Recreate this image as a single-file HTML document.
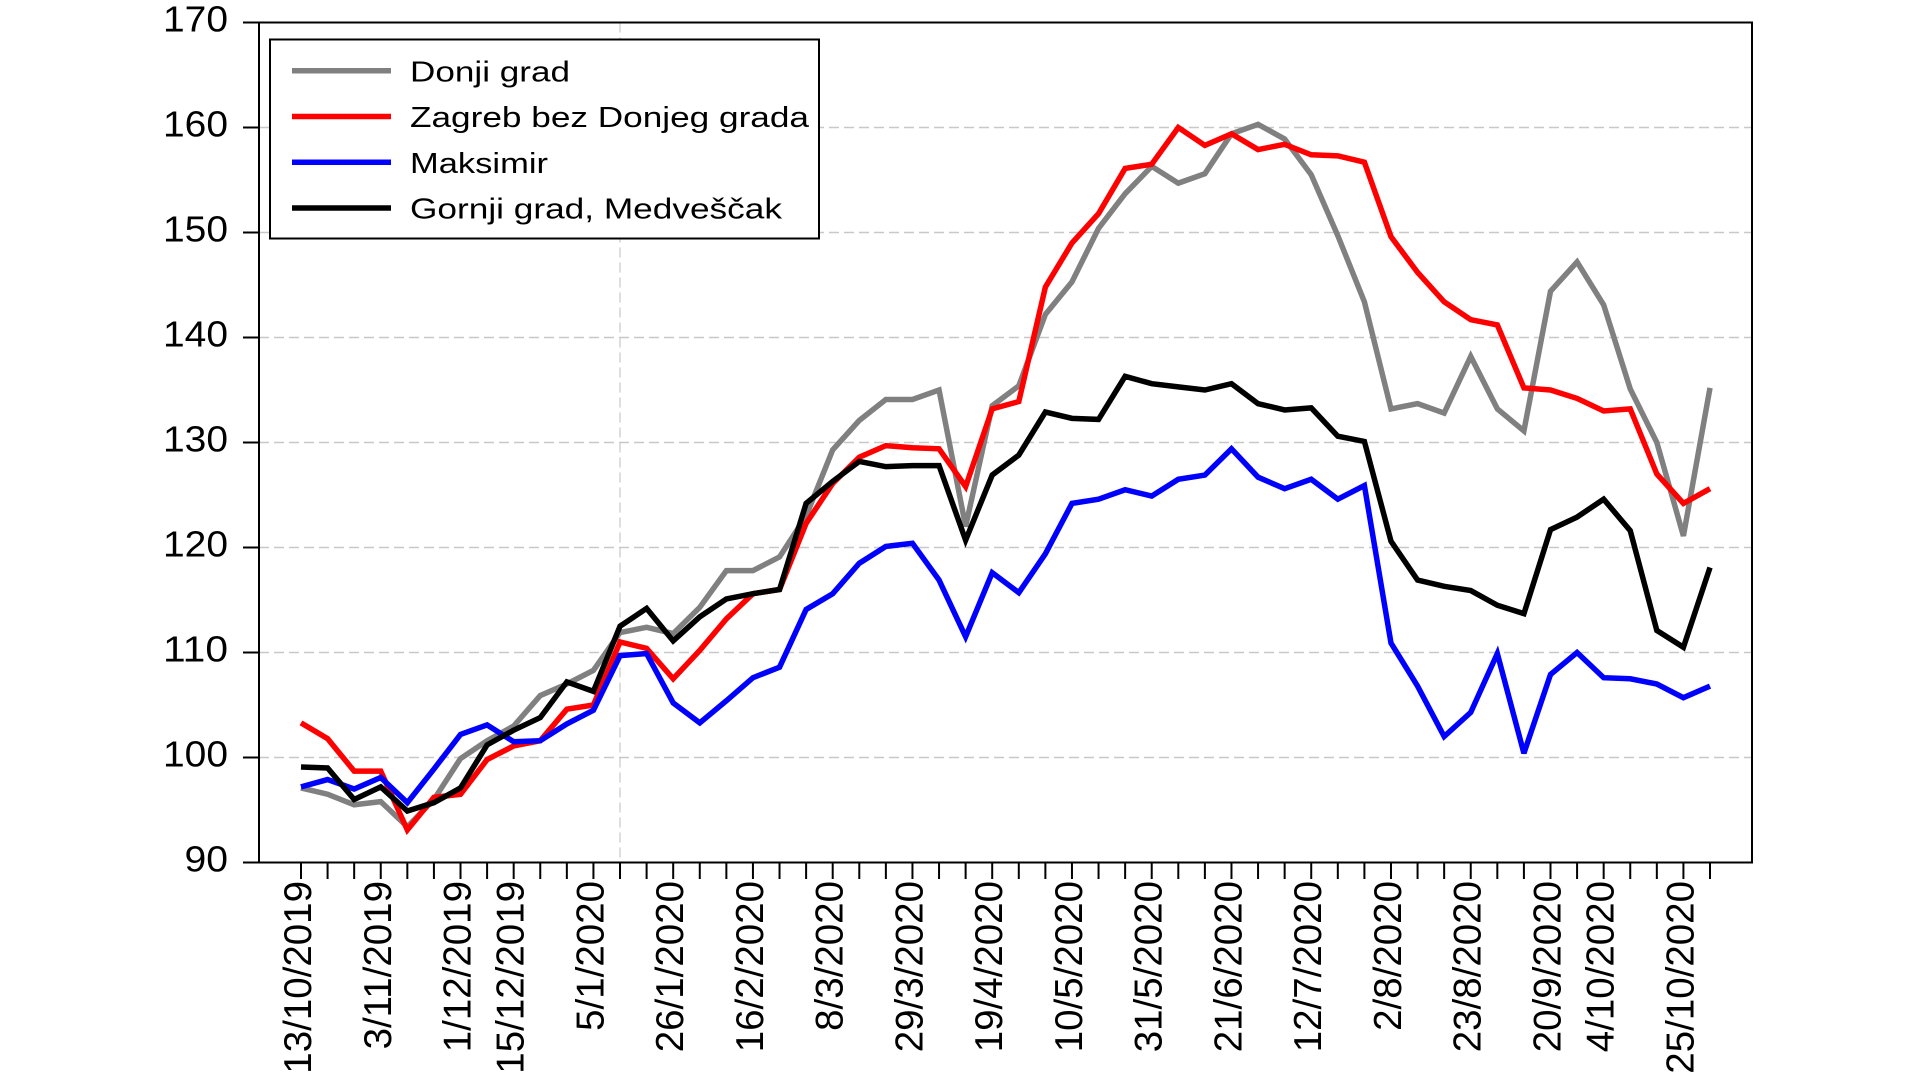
<!DOCTYPE html>
<html>
<head>
<meta charset="utf-8">
<style>
html,body{margin:0;padding:0;background:#fff;}
svg{display:block;}
text{font-family:"Liberation Sans",Arial,sans-serif;fill:#000;}
</style>
</head>
<body>
<svg width="1920" height="1080" viewBox="0 0 1920 1080" xmlns="http://www.w3.org/2000/svg">
<rect x="0" y="0" width="1920" height="1080" fill="#fff"/>

<!-- gridlines -->
<g stroke="#c8c8c8" stroke-width="1.5" stroke-dasharray="10 5" fill="none">
<line x1="259" y1="127.5" x2="1752" y2="127.5"/>
<line x1="259" y1="232.5" x2="1752" y2="232.5"/>
<line x1="259" y1="337.5" x2="1752" y2="337.5"/>
<line x1="259" y1="442.5" x2="1752" y2="442.5"/>
<line x1="259" y1="547.5" x2="1752" y2="547.5"/>
<line x1="259" y1="652.5" x2="1752" y2="652.5"/>
<line x1="259" y1="757.5" x2="1752" y2="757.5"/>
<line x1="620" y1="22.5" x2="620" y2="862.5" stroke-width="1.2"/>
</g>

<!-- series -->
<g fill="none" stroke-width="5.5" stroke-linejoin="miter" stroke-miterlimit="3" transform="matrix(26.585,0,0,-10.5,301,1807.5)">
<polyline vector-effect="non-scaling-stroke" stroke="#808080" points="0,97.1 1,96.5 2,95.5 3,95.8 4,93.4 5,96.0 6,99.9 7,101.6 8,103.0 9,105.9 10,107.0 11,108.3 12,111.9 13,112.4 14,111.8 15,114.3 16,117.8 17,117.8 18,119.1 19,123.0 20,129.3 21,132.1 22,134.1 23,134.1 24,135.0 25,122.0 26,133.5 27,135.4 28,142.2 29,145.3 30,150.4 31,153.7 32,156.3 33,154.7 34,155.6 35,159.4 36,160.3 37,158.9 38,155.5 39,149.7 40,143.4 41,133.2 42,133.7 43,132.8 44,138.2 45,133.2 46,131.1 47,144.4 48,147.2 49,143.1 50,135.1 51,130.0 52,121.1 53,135.2"/>
<polyline vector-effect="non-scaling-stroke" stroke="#ff0000" points="0,103.3 1,101.8 2,98.7 3,98.7 4,93.1 5,96.2 6,96.5 7,99.8 8,101.1 9,101.6 10,104.6 11,105.0 12,111.0 13,110.4 14,107.5 15,110.2 16,113.2 17,115.6 18,116.0 19,122.3 20,126.1 21,128.6 22,129.7 23,129.5 24,129.4 25,125.8 26,133.2 27,133.9 28,144.8 29,149.0 30,151.8 31,156.1 32,156.5 33,160.0 34,158.3 35,159.4 36,157.9 37,158.4 38,157.4 39,157.3 40,156.7 41,149.6 42,146.2 43,143.4 44,141.7 45,141.2 46,135.2 47,135.0 48,134.2 49,133.0 50,133.2 51,127.0 52,124.2 53,125.6"/>
<polyline vector-effect="non-scaling-stroke" stroke="#0000ff" points="0,97.2 1,97.9 2,97.0 3,98.1 4,95.7 5,98.9 6,102.2 7,103.1 8,101.5 9,101.6 10,103.2 11,104.5 12,109.7 13,109.9 14,105.2 15,103.3 16,105.4 17,107.6 18,108.6 19,114.1 20,115.6 21,118.5 22,120.1 23,120.4 24,116.9 25,111.5 26,117.6 27,115.7 28,119.4 29,124.2 30,124.6 31,125.5 32,124.9 33,126.5 34,126.9 35,129.4 36,126.7 37,125.6 38,126.5 39,124.6 40,125.9 41,110.9 42,106.8 43,102.0 44,104.3 45,109.9 46,100.4 47,107.9 48,110.0 49,107.6 50,107.5 51,107.0 52,105.7 53,106.8"/>
<polyline vector-effect="non-scaling-stroke" stroke="#000000" points="0,99.1 1,99.0 2,96.0 3,97.2 4,94.9 5,95.7 6,97.1 7,101.2 8,102.6 9,103.8 10,107.2 11,106.3 12,112.5 13,114.2 14,111.1 15,113.4 16,115.1 17,115.6 18,116.0 19,124.2 20,126.3 21,128.2 22,127.7 23,127.8 24,127.8 25,120.7 26,126.9 27,128.8 28,132.9 29,132.3 30,132.2 31,136.3 32,135.6 33,135.3 34,135.0 35,135.6 36,133.7 37,133.1 38,133.3 39,130.6 40,130.1 41,120.6 42,116.9 43,116.3 44,115.9 45,114.5 46,113.7 47,121.7 48,122.9 49,124.6 50,121.6 51,112.1 52,110.5 53,118.1"/>
</g>

<!-- plot frame -->
<rect x="259" y="22.5" width="1493" height="840" fill="none" stroke="#000" stroke-width="2"/>

<!-- y ticks -->
<g stroke="#000" stroke-width="2">
<line x1="243" y1="22.5" x2="259" y2="22.5"/>
<line x1="243" y1="127.5" x2="259" y2="127.5"/>
<line x1="243" y1="232.5" x2="259" y2="232.5"/>
<line x1="243" y1="337.5" x2="259" y2="337.5"/>
<line x1="243" y1="442.5" x2="259" y2="442.5"/>
<line x1="243" y1="547.5" x2="259" y2="547.5"/>
<line x1="243" y1="652.5" x2="259" y2="652.5"/>
<line x1="243" y1="757.5" x2="259" y2="757.5"/>
<line x1="243" y1="862.5" x2="259" y2="862.5"/>
</g>

<!-- y labels -->
<g font-size="36" text-anchor="end">
<text x="228" y="31.5" textLength="65" lengthAdjust="spacingAndGlyphs">170</text>
<text x="228" y="136.5" textLength="65" lengthAdjust="spacingAndGlyphs">160</text>
<text x="228" y="241.5" textLength="65" lengthAdjust="spacingAndGlyphs">150</text>
<text x="228" y="346.5" textLength="65" lengthAdjust="spacingAndGlyphs">140</text>
<text x="228" y="451.5" textLength="65" lengthAdjust="spacingAndGlyphs">130</text>
<text x="228" y="556.5" textLength="65" lengthAdjust="spacingAndGlyphs">120</text>
<text x="228" y="661.5" textLength="65" lengthAdjust="spacingAndGlyphs">110</text>
<text x="228" y="766.5" textLength="65" lengthAdjust="spacingAndGlyphs">100</text>
<text x="228" y="871.5" textLength="43.5" lengthAdjust="spacingAndGlyphs">90</text>
</g>

<!-- x ticks -->
<g stroke="#000" stroke-width="2" transform="translate(301,0)">
<path d="M0,862V879 M26.585,862V879 M53.17,862V879 M79.755,862V879 M106.34,862V879 M132.925,862V879 M159.51,862V879 M186.095,862V879 M212.68,862V879 M239.265,862V879 M265.85,862V879 M292.435,862V879 M319.02,862V879 M345.605,862V879 M372.19,862V879 M398.775,862V879 M425.36,862V879 M451.945,862V879 M478.53,862V879 M505.115,862V879 M531.7,862V879 M558.285,862V879 M584.87,862V879 M611.455,862V879 M638.04,862V879 M664.625,862V879 M691.21,862V879 M717.795,862V879 M744.38,862V879 M770.965,862V879 M797.55,862V879 M824.135,862V879 M850.72,862V879 M877.305,862V879 M903.89,862V879 M930.475,862V879 M957.06,862V879 M983.645,862V879 M1010.23,862V879 M1036.815,862V879 M1063.4,862V879 M1089.985,862V879 M1116.57,862V879 M1143.155,862V879 M1169.74,862V879 M1196.325,862V879 M1222.91,862V879 M1249.495,862V879 M1276.08,862V879 M1302.665,862V879 M1329.25,862V879 M1355.835,862V879 M1382.42,862V879 M1409.005,862V879"/>
</g>

<!-- x labels (rotated) -->
<g font-size="38.5" text-anchor="end">
<text transform="translate(311,881) rotate(-90)">13/10/2019</text>
<text transform="translate(390.8,881) rotate(-90)">3/11/2019</text>
<text transform="translate(470.5,881) rotate(-90)">1/12/2019</text>
<text transform="translate(523.7,881) rotate(-90)">15/12/2019</text>
<text transform="translate(603.4,881) rotate(-90)">5/1/2020</text>
<text transform="translate(683.2,881) rotate(-90)">26/1/2020</text>
<text transform="translate(762.9,881) rotate(-90)">16/2/2020</text>
<text transform="translate(842.7,881) rotate(-90)">8/3/2020</text>
<text transform="translate(922.5,881) rotate(-90)">29/3/2020</text>
<text transform="translate(1002.2,881) rotate(-90)">19/4/2020</text>
<text transform="translate(1082,881) rotate(-90)">10/5/2020</text>
<text transform="translate(1161.7,881) rotate(-90)">31/5/2020</text>
<text transform="translate(1241.5,881) rotate(-90)">21/6/2020</text>
<text transform="translate(1321.2,881) rotate(-90)">12/7/2020</text>
<text transform="translate(1401,881) rotate(-90)">2/8/2020</text>
<text transform="translate(1480.7,881) rotate(-90)">23/8/2020</text>
<text transform="translate(1560.5,881) rotate(-90)">20/9/2020</text>
<text transform="translate(1613.7,881) rotate(-90)">4/10/2020</text>
<text transform="translate(1693.4,881) rotate(-90)">25/10/2020</text>
</g>

<!-- legend -->
<rect x="270" y="39.5" width="549" height="199" fill="#fff" stroke="#000" stroke-width="2"/>
<g stroke-width="5.5">
<line x1="292" y1="70.7" x2="391" y2="70.7" stroke="#808080"/>
<line x1="292" y1="116.5" x2="391" y2="116.5" stroke="#ff0000"/>
<line x1="292" y1="162.3" x2="391" y2="162.3" stroke="#0000ff"/>
<line x1="292" y1="208" x2="391" y2="208" stroke="#000000"/>
</g>
<g font-size="29">
<text x="410" y="81.7" textLength="160" lengthAdjust="spacingAndGlyphs">Donji grad</text>
<text x="410" y="127.2" textLength="399" lengthAdjust="spacingAndGlyphs">Zagreb bez Donjeg grada</text>
<text x="410" y="173.1" textLength="138" lengthAdjust="spacingAndGlyphs">Maksimir</text>
<text x="410" y="218.6" textLength="372" lengthAdjust="spacingAndGlyphs">Gornji grad, Medveščak</text>
</g>
</svg>
</body>
</html>
